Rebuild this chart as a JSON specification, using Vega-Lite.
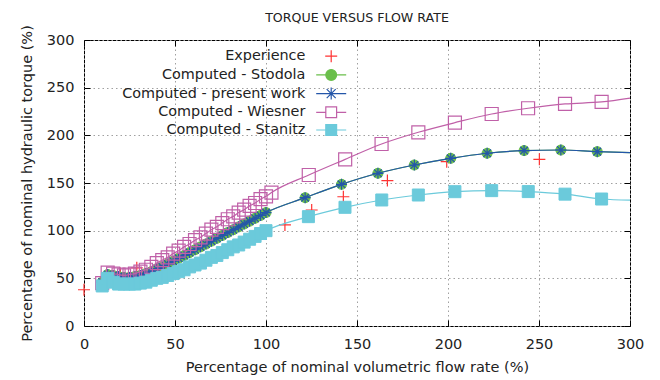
{
  "$schema": "https://vega.github.io/schema/vega-lite/v6.json",
  "width": 546,
  "height": 286,
  "autosize": "none",
  "padding": {"left": 84, "top": 40, "right": 30, "bottom": 54},
  "title": {"text": "TORQUE VERSUS FLOW RATE", "fontSize": 12.6, "fontWeight": "normal", "color": "#222", "offset": 0, "anchor": "middle"},
  "config": {
    "font": "DejaVu Sans",
    "view": {"stroke": "#000", "strokeWidth": 1}
  },
  "datasets": {
    "exp": [
      {"s": "Experience", "x": 0, "y": 38}, {"s": "Experience", "x": 20, "y": 55}, {"s": "Experience", "x": 29, "y": 61},
      {"s": "Experience", "x": 110.4, "y": 106}, {"s": "Experience", "x": 125.1, "y": 121.7}, {"s": "Experience", "x": 142.5, "y": 135.6},
      {"s": "Experience", "x": 166.7, "y": 152.5}, {"s": "Experience", "x": 199.3, "y": 172.4}, {"s": "Experience", "x": 250.2, "y": 174.8}
    ],
    "comp": [
      {"x": 10, "y": 46}, {"x": 13, "y": 54}, {"x": 16, "y": 53}, {"x": 19, "y": 52}, {"x": 22, "y": 51}, {"x": 25, "y": 51},
      {"x": 28, "y": 52}, {"x": 31, "y": 53}, {"x": 34, "y": 55}, {"x": 37, "y": 57}, {"x": 40, "y": 60}, {"x": 43, "y": 62},
      {"x": 46, "y": 65}, {"x": 49, "y": 68}, {"x": 52, "y": 71}, {"x": 55, "y": 74}, {"x": 58, "y": 77}, {"x": 61, "y": 80},
      {"x": 64, "y": 83}, {"x": 67, "y": 86}, {"x": 70, "y": 89}, {"x": 73, "y": 92}, {"x": 76, "y": 95}, {"x": 79, "y": 98},
      {"x": 82, "y": 101}, {"x": 85, "y": 104}, {"x": 88, "y": 107}, {"x": 91, "y": 110}, {"x": 94, "y": 113}, {"x": 97, "y": 116},
      {"x": 100, "y": 119}, {"x": 121.5, "y": 134.6}, {"x": 141.5, "y": 148.6}, {"x": 161.5, "y": 160.2}, {"x": 181.5, "y": 168.9},
      {"x": 201.5, "y": 175.9}, {"x": 221.5, "y": 181.2}, {"x": 241.8, "y": 184}, {"x": 262, "y": 184.6}, {"x": 282, "y": 182.9},
      {"x": 300, "y": 181.9}
    ],
    "wie": [
      {"x": 10, "y": 45}, {"x": 13, "y": 56}, {"x": 16, "y": 55}, {"x": 19, "y": 54}, {"x": 22, "y": 53}, {"x": 25, "y": 54},
      {"x": 28, "y": 55}, {"x": 31, "y": 57}, {"x": 34, "y": 59}, {"x": 37, "y": 62}, {"x": 40, "y": 66}, {"x": 43, "y": 69},
      {"x": 46, "y": 72}, {"x": 49, "y": 76}, {"x": 52, "y": 79}, {"x": 55, "y": 83}, {"x": 58, "y": 86}, {"x": 61, "y": 90},
      {"x": 64, "y": 93}, {"x": 67, "y": 97}, {"x": 70, "y": 101}, {"x": 73, "y": 104}, {"x": 76, "y": 108}, {"x": 79, "y": 112},
      {"x": 82, "y": 115}, {"x": 85, "y": 119}, {"x": 88, "y": 122}, {"x": 91, "y": 126}, {"x": 94, "y": 129}, {"x": 97, "y": 133},
      {"x": 100, "y": 136}, {"x": 103, "y": 140}, {"x": 123.5, "y": 158.4}, {"x": 143.5, "y": 174.8}, {"x": 163.5, "y": 190.9},
      {"x": 183.7, "y": 203.2}, {"x": 203.8, "y": 213.3}, {"x": 224, "y": 222.4}, {"x": 244, "y": 228.4}, {"x": 264.3, "y": 232.9},
      {"x": 284.4, "y": 235}, {"x": 300, "y": 239}
    ],
    "sta": [
      {"x": 10, "y": 42}, {"x": 13, "y": 50}, {"x": 16, "y": 46}, {"x": 19, "y": 44}, {"x": 22, "y": 44}, {"x": 25, "y": 44},
      {"x": 28, "y": 44}, {"x": 31, "y": 45}, {"x": 34, "y": 46}, {"x": 37, "y": 48}, {"x": 40, "y": 50}, {"x": 43, "y": 51},
      {"x": 46, "y": 53}, {"x": 49, "y": 55}, {"x": 52, "y": 57}, {"x": 55, "y": 59}, {"x": 58, "y": 62}, {"x": 61, "y": 64},
      {"x": 64, "y": 66}, {"x": 67, "y": 69}, {"x": 70, "y": 72}, {"x": 73, "y": 74}, {"x": 76, "y": 77}, {"x": 79, "y": 80},
      {"x": 82, "y": 83}, {"x": 85, "y": 85}, {"x": 88, "y": 88}, {"x": 91, "y": 91}, {"x": 94, "y": 94}, {"x": 97, "y": 97},
      {"x": 100, "y": 100}, {"x": 123.3, "y": 114.7}, {"x": 143.4, "y": 124.5}, {"x": 163.6, "y": 132.2}, {"x": 183.7, "y": 137.4},
      {"x": 203.8, "y": 140.9}, {"x": 224, "y": 142}, {"x": 244.1, "y": 141}, {"x": 264.3, "y": 138.3}, {"x": 284.4, "y": 133.2},
      {"x": 300, "y": 132}
    ]
  },
  "layer": [
    {
      "data": {"name": "exp"},
      "mark": {"type": "point", "size": 144, "strokeWidth": 1.2, "opacity": 1},
      "encoding": {
        "x": {"field": "x", "type": "quantitative", "scale": {"domain": [0, 300], "nice": false, "zero": false},
          "axis": {"orient": "bottom", "values": [0, 50, 100, 150, 200, 250, 300], "tickSize": -6, "tickColor": "#000", "labelPadding": 17, "labelFlush": false,
            "labelFontSize": 14.5, "labelColor": "#222", "domain": false, "grid": true, "gridColor": "#a0a0a0", "gridDash": [1.5, 3],
            "title": "Percentage of nominal volumetric flow rate (%)", "titleFontSize": 14.5, "titleFontWeight": "normal", "titleColor": "#222", "titlePadding": 10}},
        "y": {"field": "y", "type": "quantitative", "scale": {"domain": [0, 300], "nice": false, "zero": false},
          "axis": {"orient": "left", "values": [0, 50, 100, 150, 200, 250, 300], "tickSize": -6, "tickColor": "#000", "labelPadding": 16, "labelFlush": false,
            "labelFontSize": 14.5, "labelColor": "#222", "domain": false, "grid": true, "gridColor": "#a0a0a0", "gridDash": [1.5, 3],
            "title": "Percentage of nominal hydraulic torque (%)", "titleFontSize": 14.5, "titleFontWeight": "normal", "titleColor": "#222", "titlePadding": 12}},
        "stroke": {"field": "s", "type": "nominal",
          "scale": {"domain": ["Experience", "Computed - Stodola", "Computed - present work", "Computed - Wiesner", "Computed - Stanitz"],
            "range": ["#ff3333", "#6abf4b", "#2456a9", "#c060a8", "#6bcadb"]},
          "legend": {"title": null, "orient": "none", "legendX": 240, "legendY": 9, "padding": 0,
            "labelAlign": "right", "labelOffset": -33, "labelFontSize": 14.4, "labelColor": "#222", "labelLimit": 400,
            "symbolSize": 144, "symbolStrokeWidth": 1.2, "symbolOpacity": 1, "rowPadding": 1.7}
        },
        "fill": {"field": "s", "type": "nominal",
          "scale": {"domain": ["Experience", "Computed - Stodola", "Computed - present work", "Computed - Wiesner", "Computed - Stanitz"],
            "range": ["transparent", "#6abf4b", "transparent", "transparent", "#6bcadb"]},
          "legend": {"title": null, "orient": "none", "legendX": 240, "legendY": 9, "padding": 0,
            "labelAlign": "right", "labelOffset": -33, "labelFontSize": 14.4, "labelColor": "#222", "labelLimit": 400,
            "symbolSize": 144, "symbolStrokeWidth": 1.2, "symbolOpacity": 1, "rowPadding": 1.7}
        },
        "shape": {"field": "s", "type": "nominal",
          "scale": {"domain": ["Experience", "Computed - Stodola", "Computed - present work", "Computed - Wiesner", "Computed - Stanitz"],
            "range": ["M-1,0H1M0,-1V1",
              "M-2.5,0H2.5M-0.9,0A0.9,0.9 0 1,0 0.9,0A0.9,0.9 0 1,0 -0.9,0",
              "M-2.5,0H2.5M0,-1V1M-0.75,-0.75L0.75,0.75M-0.75,0.75L0.75,-0.75",
              "M-2.5,0H-0.9M0.9,0H2.5M-0.9,-0.9H0.9V0.9H-0.9Z",
              "M-2.5,0H2.5M-0.9,-0.9H0.9V0.9H-0.9Z"]},
          "legend": {"title": null, "orient": "none", "legendX": 240, "legendY": 9, "padding": 0,
            "labelAlign": "right", "labelOffset": -33, "labelFontSize": 14.4, "labelColor": "#222", "labelLimit": 400,
            "symbolSize": 144, "symbolStrokeWidth": 1.2, "symbolOpacity": 1, "rowPadding": 1.7}
        }
      }
    },
    {
      "data": {"name": "comp"},
      "mark": {"type": "line", "stroke": "#6abf4b", "strokeWidth": 1.2, "interpolate": "monotone"},
      "encoding": {"x": {"field": "x", "type": "quantitative", "axis": null}, "y": {"field": "y", "type": "quantitative", "axis": null}}
    },
    {
      "data": {"name": "comp"},
      "transform": [{"filter": "datum.x < 300"}],
      "mark": {"type": "point", "shape": "circle", "size": 100, "filled": true, "fill": "#6abf4b", "stroke": "#6abf4b", "strokeWidth": 1, "opacity": 1},
      "encoding": {"x": {"field": "x", "type": "quantitative", "axis": null}, "y": {"field": "y", "type": "quantitative", "axis": null}}
    },
    {
      "data": {"name": "comp"},
      "mark": {"type": "line", "stroke": "#2456a9", "strokeWidth": 1.2, "interpolate": "monotone"},
      "encoding": {"x": {"field": "x", "type": "quantitative", "axis": null}, "y": {"field": "y", "type": "quantitative", "axis": null}}
    },
    {
      "data": {"name": "comp"},
      "transform": [{"filter": "datum.x < 300"}],
      "mark": {"type": "point", "shape": "M0,-1V1M-1,0H1M-0.7,-0.7L0.7,0.7M-0.7,0.7L0.7,-0.7", "size": 121, "filled": false, "stroke": "#2456a9", "strokeWidth": 1.2, "opacity": 1},
      "encoding": {"x": {"field": "x", "type": "quantitative", "axis": null}, "y": {"field": "y", "type": "quantitative", "axis": null}}
    },
    {
      "data": {"name": "wie"},
      "mark": {"type": "line", "stroke": "#c060a8", "strokeWidth": 1.2, "interpolate": "monotone"},
      "encoding": {"x": {"field": "x", "type": "quantitative", "axis": null}, "y": {"field": "y", "type": "quantitative", "axis": null}}
    },
    {
      "data": {"name": "wie"},
      "transform": [{"filter": "datum.x < 300"}],
      "mark": {"type": "point", "shape": "square", "size": 169, "filled": false, "stroke": "#c060a8", "strokeWidth": 1.2, "opacity": 1},
      "encoding": {"x": {"field": "x", "type": "quantitative", "axis": null}, "y": {"field": "y", "type": "quantitative", "axis": null}}
    },
    {
      "data": {"name": "sta"},
      "mark": {"type": "line", "stroke": "#6bcadb", "strokeWidth": 1.2, "interpolate": "monotone"},
      "encoding": {"x": {"field": "x", "type": "quantitative", "axis": null}, "y": {"field": "y", "type": "quantitative", "axis": null}}
    },
    {
      "data": {"name": "sta"},
      "transform": [{"filter": "datum.x < 300"}],
      "mark": {"type": "point", "shape": "square", "size": 144, "filled": true, "fill": "#6bcadb", "stroke": "#6bcadb", "strokeWidth": 1, "opacity": 1},
      "encoding": {"x": {"field": "x", "type": "quantitative", "axis": null}, "y": {"field": "y", "type": "quantitative", "axis": null}}
    },
    {
      "data": {"name": "exp"},
      "mark": {"type": "point", "opacity": 0},
      "encoding": {
        "x": {"field": "x", "type": "quantitative", "axis": {"orient": "top", "values": [0, 50, 100, 150, 200, 250, 300], "tickSize": -6, "tickColor": "#000", "labels": false, "domain": false, "grid": false, "title": null}},
        "y": {"field": "y", "type": "quantitative", "axis": {"orient": "right", "values": [0, 50, 100, 150, 200, 250, 300], "tickSize": -6, "tickColor": "#000", "labels": false, "domain": false, "grid": false, "title": null}}
      }
    }
  ]
}
